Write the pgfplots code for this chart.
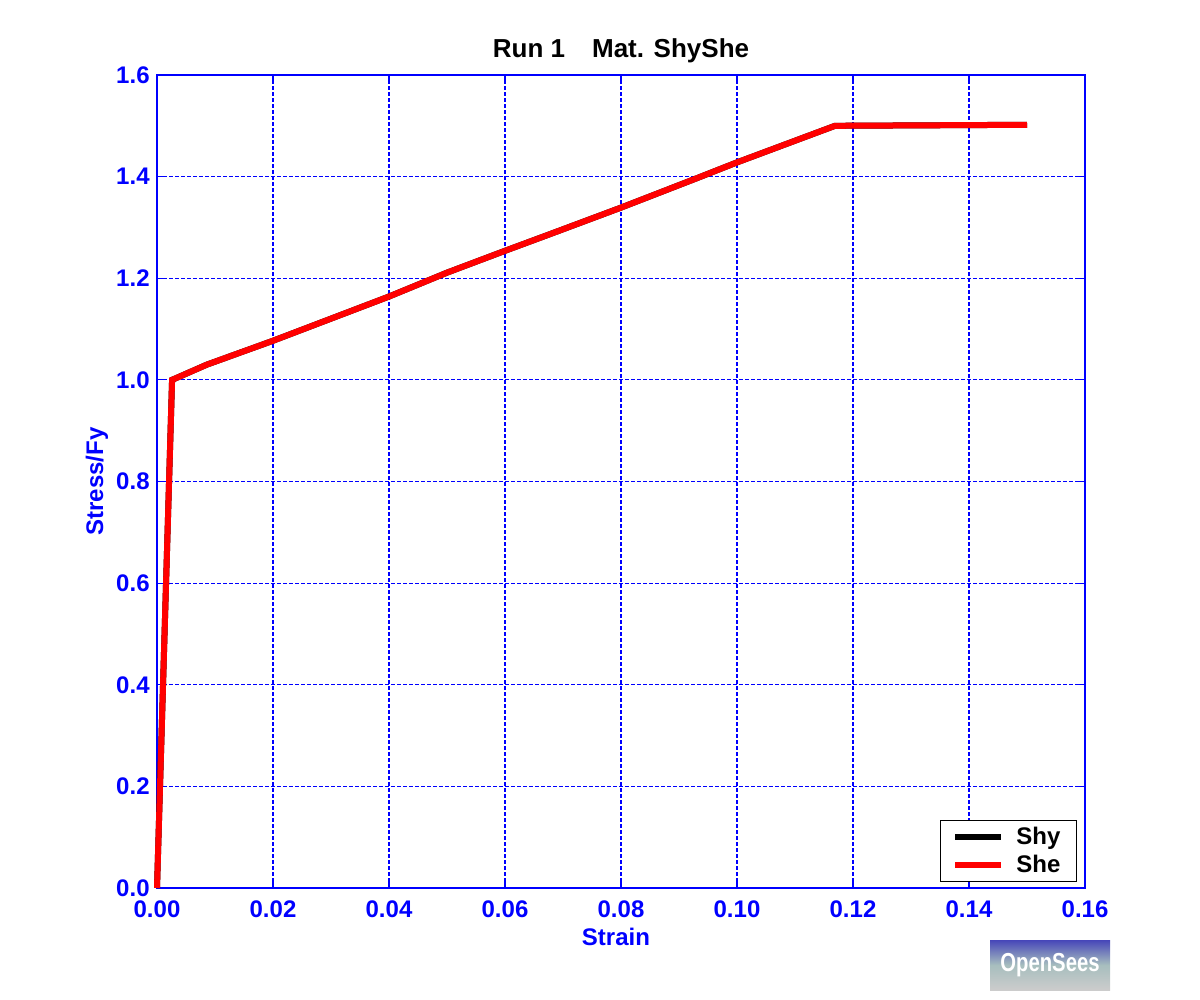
\documentclass[border=0pt]{standalone}
\usepackage{fontspec}
\setmainfont{Liberation Sans}
\usepackage{pgfplots}
\pgfplotsset{compat=1.18}
\definecolor{mblue}{RGB}{0,0,255}
\definecolor{mred}{RGB}{255,0,0}
\begin{document}
\begin{tikzpicture}
\path[use as bounding box] (-78.5bp,-56bp) rectangle (521.5bp,444bp);
\begin{axis}[
  scale only axis,
  width=464bp, height=406.5bp,
  xmin=0, xmax=0.16, ymin=0, ymax=1.6,
  xtick={0,0.02,0.04,0.06,0.08,0.10,0.12,0.14,0.16},
  ytick={0,0.2,0.4,0.6,0.8,1.0,1.2,1.4,1.6},
  axis line style={mblue, line width=0.6bp},
  tick style={mblue, line width=0.6bp},
  major tick length=4bp,
  tick align=inside,
  xtick pos=both, ytick pos=both,
  grid=major,
  grid style={mblue, line width=0.6bp, dash pattern=on 2bp off 1bp},
  major grid style={mblue, line width=0.6bp, dash pattern=on 2bp off 1bp},
  /pgf/number format/assume math mode=true,
  xticklabel style={/pgf/number format/.cd, fixed, fixed zerofill, precision=2, /tikz/.cd, font=\fontsize{12bp}{14bp}\selectfont\bfseries, text=mblue, anchor=center, yshift=-10.5bp},
  yticklabel style={/pgf/number format/.cd, fixed, fixed zerofill, precision=1, /tikz/.cd, font=\fontsize{12bp}{14bp}\selectfont\bfseries, text=mblue, anchor=east, inner sep=0pt, xshift=-3.5bp},
  scaled x ticks=false, scaled y ticks=false,
  xlabel={Strain},
  ylabel={Stress/Fy},
  xlabel style={font=\fontsize{12bp}{14bp}\selectfont\bfseries, text=mblue, at={(axis description cs:0.4946,-0.0603)}, anchor=center},
  ylabel style={font=\fontsize{12bp}{14bp}\selectfont\bfseries, text=mblue, at={(axis description cs:-0.0647,0.5)}, anchor=center},
  title={Run 1\hspace{13.5bp}Mat. ShyShe},
  title style={font=\fontsize{13bp}{15bp}\selectfont\bfseries, text=black, at={(axis description cs:0.5,1)}, anchor=center, yshift=6bp},
  legend cell align=left,
  legend style={at={(1,0)}, anchor=south east, xshift=-4bp, yshift=3bp, draw=black, line width=0.6bp, fill=white,
    font=\fontsize{12bp}{14bp}\selectfont\bfseries, inner xsep=6bp, inner ysep=1bp, row sep=0bp,
    /tikz/every odd column/.append style={column sep=4bp}},
  legend image code/.code={\draw[#1, line width=3bp] (0bp,0bp) -- (23bp,0bp);},
  clip=false,
]
\addplot[black, line width=3bp] coordinates {
 (0,0) (0.0026,1.0) (0.0086,1.03) (0.02,1.077) (0.04,1.164) (0.05,1.211) (0.06,1.254) (0.0678,1.287) (0.08,1.339) (0.0931,1.397) (0.10,1.428) (0.1169,1.5) (0.15,1.502)
};
\addlegendentry{Shy}
\addplot[mred, line width=3bp] coordinates {
 (0,0) (0.0026,1.0) (0.0086,1.03) (0.02,1.077) (0.04,1.164) (0.05,1.211) (0.06,1.254) (0.0678,1.287) (0.08,1.339) (0.0931,1.397) (0.10,1.428) (0.1169,1.5) (0.15,1.502)
};
\addlegendentry{She}
\end{axis}
\shade[top color=blue!45!gray, bottom color=gray!40!white, middle color=cyan!15!gray!60] (416.5bp,-51bp) rectangle (476.5bp,-26bp);
\node[font=\fontsize{13bp}{14bp}\selectfont\bfseries, text=white, inner sep=0pt] at (446.5bp,-38.5bp) {\addfontfeature{FakeStretch=0.78}OpenSees};
\end{tikzpicture}
\end{document}
